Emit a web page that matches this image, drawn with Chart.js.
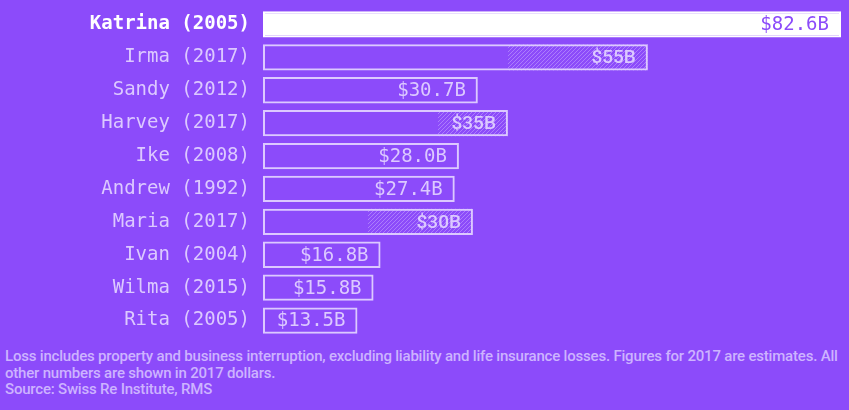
<!DOCTYPE html>
<html lang="en">
<head>
    <meta charset="UTF-8">
    <title>Costliest Hurricanes</title>
    <script src="https://cdn.jsdelivr.net/npm/chart.js"></script>
    <style>
        html, body { margin: 0; padding: 0; background: #8c4bfa; }
        .wrap { width: 849px; height: 410px; position: relative; overflow: hidden; }
        .chart-box { width: 849px; height: 345px; position: relative; }
        .note {
            position: absolute; left: 5px; top: 348px; width: 845px;
            font-family: "Roboto", sans-serif; font-weight: 500;
            font-size: 15px; line-height: 16.5px; color: #cdb3ff;
            letter-spacing: -0.2px; white-space: nowrap;
        }
    </style>
</head>
<body>
    <div class="wrap">
        <div class="chart-box">
            <canvas id="lossChart"></canvas>
        </div>
        <div class="note">
            Loss includes property and business interruption, excluding liability and life insurance losses. Figures for 2017 are estimates. All<br>
            other numbers are shown in 2017 dollars.<br>
            Source: Swiss Re Institute, RMS
        </div>
    </div>

    <script>
        // hurricane names (y categories)
        const storms = ["Katrina (2005)", "Irma (2017)", "Sandy (2012)", "Harvey (2017)", "Ike (2008)",
                        "Andrew (1992)", "Maria (2017)", "Ivan (2004)", "Wilma (2015)", "Rita (2005)"];
        // insured loss, $ billions
        const losses = [82.6, 55, 30.7, 35, 28.0, 27.4, 30, 16.8, 15.8, 13.5];
        // lower end of the 2017 estimate range (hatched part), null = no range
        const estimateLow = [null, 35, null, 25, null, null, 15, null, null, null];
        const valueLabels = ["$82.6B", "$55B", "$30.7B", "$35B", "$28.0B", "$27.4B", "$30B", "$16.8B", "$15.8B", "$13.5B"];

        const BG = "#8c4bfa";
        const LAV = "#dcc9ff";
        const MONO = "'DejaVu Sans Mono', 'Liberation Mono', monospace";

        function makeHatch() {
            let c = document.createElement("canvas");
            c.width = 4; c.height = 4;
            let g = c.getContext("2d");
            g.fillStyle = BG;
            g.fillRect(0, 0, 4, 4);
            g.strokeStyle = "rgba(220, 201, 255, 0.4)";
            g.lineWidth = 1;
            g.beginPath();
            g.moveTo(-1, 5); g.lineTo(5, -1);
            g.moveTo(-1, 1); g.lineTo(1, -1);
            g.moveTo(3, 5); g.lineTo(5, 3);
            g.stroke();
            return g.createPattern(c, "repeat");
        }

        const valueLabelPlugin = {
            id: "valueLabels",
            afterDatasetsDraw(chart) {
                let ctx = chart.ctx;
                let meta = chart.getDatasetMeta(0);
                ctx.save();
                ctx.textAlign = "right";
                ctx.textBaseline = "middle";
                meta.data.forEach((bar, i) => {
                    let est = estimateLow[i] !== null;
                    ctx.font = est ? "500 19px Roboto, sans-serif" : "19px " + MONO;
                    ctx.fillStyle = i === 0 ? BG : LAV;
                    ctx.fillText(valueLabels[i], bar.x - 12, bar.y + 1);
                });
                ctx.restore();
            }
        };

        let ctx = document.getElementById("lossChart").getContext("2d");
        let lossChart = new Chart(ctx, {
            type: "bar",
            data: {
                labels: storms,
                datasets: [{
                    label: "Loss",
                    data: losses,
                    backgroundColor: losses.map((v, i) => i === 0 ? "#ffffff" : "rgba(0,0,0,0)"),
                    borderColor: losses.map((v, i) => i === 0 ? "#ffffff" : LAV),
                    borderWidth: 2,
                    borderSkipped: false,
                    barPercentage: 0.8,
                    categoryPercentage: 1,
                    grouped: false
                }, {
                    label: "Estimate range",
                    data: estimateLow.map((lo, i) => lo === null ? null : [lo, losses[i]]),
                    backgroundColor: makeHatch(),
                    borderWidth: 0,
                    barPercentage: 0.8,
                    categoryPercentage: 1,
                    grouped: false
                }]
            },
            options: {
                indexAxis: "y",
                responsive: true,
                maintainAspectRatio: false,
                animation: false,
                layout: { padding: { top: 8, bottom: 8, right: 8, left: 0 } },
                plugins: { legend: { display: false }, tooltip: { enabled: false } },
                scales: {
                    x: { display: false, min: 0, max: 82.6 },
                    y: {
                        grid: { display: false, drawTicks: false },
                        border: { display: false },
                        afterFit(scale) {
                            scale.width = 263;
                            scale.paddingTop = 0;
                            scale.paddingBottom = 0;
                        },
                        ticks: {
                            padding: 13,
                            font: c => ({ family: MONO, size: 19, weight: c.index === 0 ? "bold" : "normal" }),
                            color: c => c.index === 0 ? "#ffffff" : LAV
                        }
                    }
                }
            },
            plugins: [valueLabelPlugin]
        });
    </script>
</body>
</html>
